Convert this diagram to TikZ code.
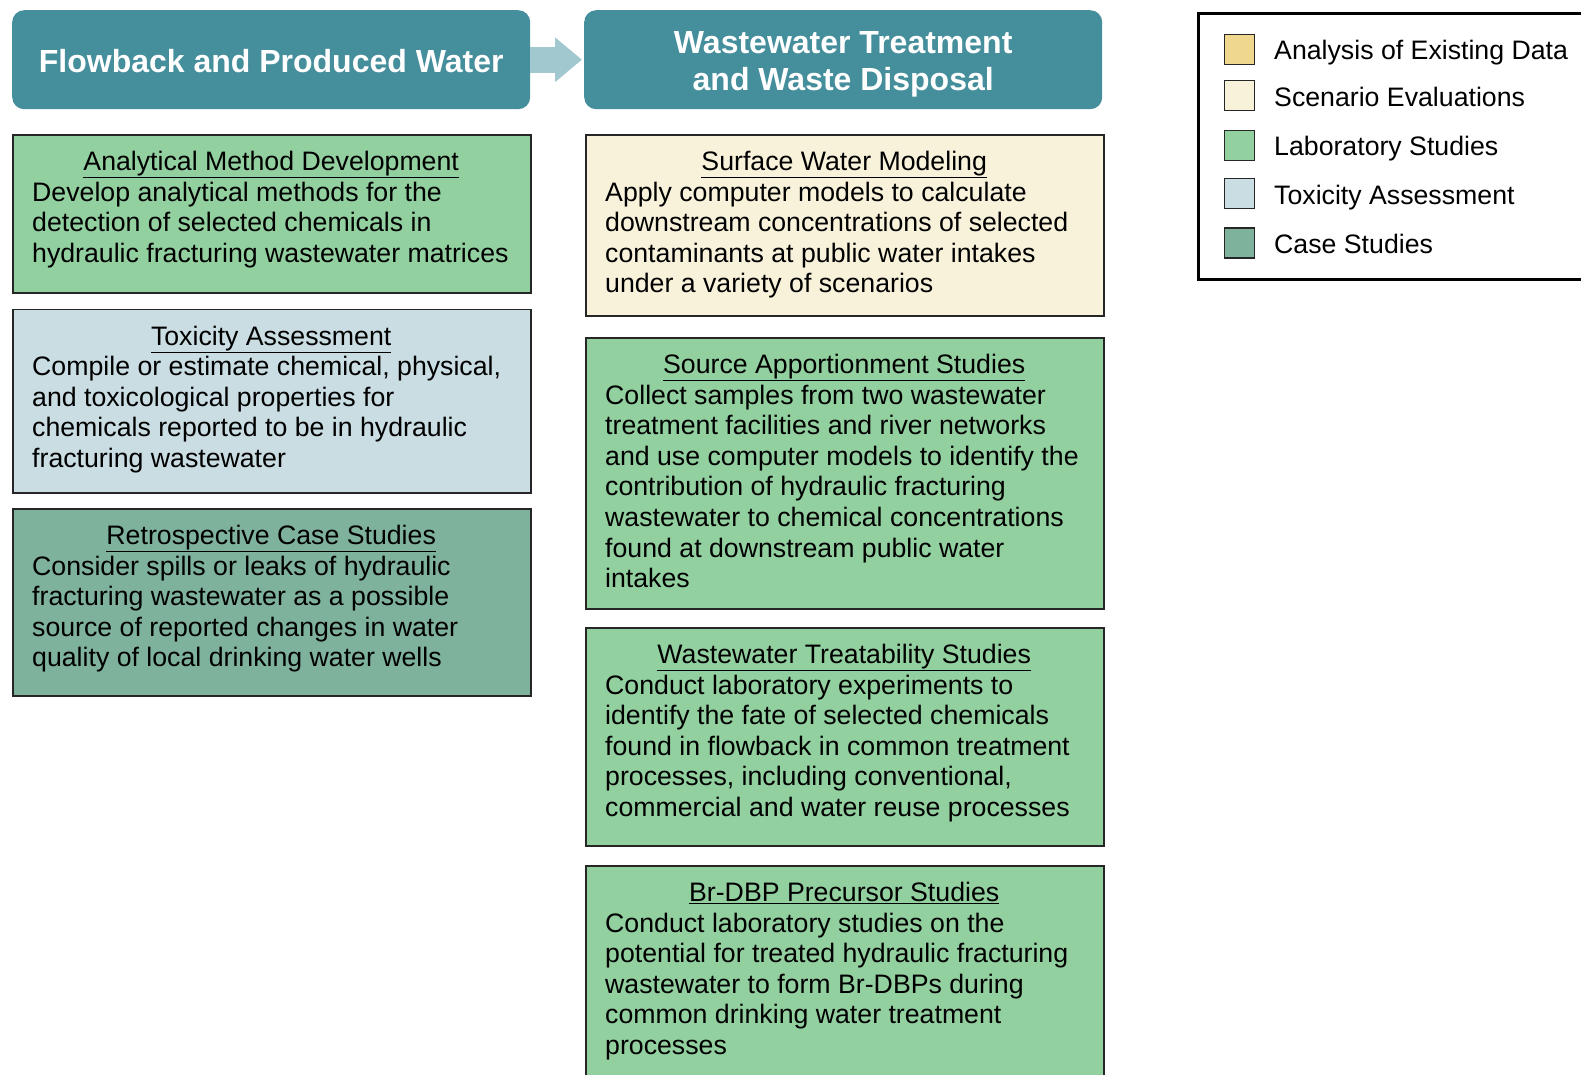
\documentclass[tikz,border=0pt]{standalone}
\usepackage{fontspec}
\setmainfont{Liberation Sans}
\usetikzlibrary{arrows.meta}
\definecolor{hdr}{HTML}{458E9B}
\definecolor{arr}{HTML}{A1C7CF}
\definecolor{lab}{HTML}{92D0A0}
\definecolor{tox}{HTML}{C9DDE2}
\definecolor{cas}{HTML}{7EB29C}
\definecolor{scen}{HTML}{F8F2DB}
\definecolor{ana}{HTML}{EFD88E}
\newcommand{\ttl}[1]{\makebox[478pt]{\underline{#1}}}
\begin{document}
\begin{tikzpicture}[x=1pt,y=-1pt,
  hdrbox/.style={anchor=north west, fill=hdr, rounded corners=12pt, minimum width=518pt, minimum height=99pt, inner sep=0pt, text=white, align=center, font=\fontsize{32}{37}\selectfont\bfseries},
  box/.style={draw=black!85, line width=1.8pt, anchor=north west, inner sep=0pt, minimum width=518pt},
  body/.style={anchor=north west, inner sep=0pt, align=left, text=black, font=\fontsize{26.7}{30.6}\selectfont},
  sw/.style={draw=black!85, line width=1.3pt, minimum size=30pt, inner sep=0pt},
  leg/.style={anchor=base west, inner sep=0pt, text=black, font=\fontsize{26.7}{30.6}\selectfont}]
\useasboundingbox (0,0) rectangle (1581,1074);
\clip (0,0) rectangle (1581,1074);

% headers
\node[hdrbox] (H1) at (12,10) {\rule{0pt}{25pt}Flowback and Produced Water};
\node[hdrbox] (H2) at (584,10) {\rule{0pt}{32pt}Wastewater Treatment\\and Waste Disposal};
\draw[arr, line width=26pt, -{Triangle[width=43pt,length=27pt]}, shorten >=2pt] (H1.east) -- (H2.west);

% left column
\node[box, fill=lab, minimum height=158pt] (A) at (12,134) {};
\node[body] (At) at ([xshift=20pt,yshift=-17pt]A.north west) {\ttl{Analytical Method Development}\\
Develop analytical methods for the\\
detection of selected chemicals in\\
hydraulic fracturing wastewater matrices};

\node[box, fill=tox, minimum height=183.5pt] (B) at (12,308.5) {};
\node[body] (Bt) at ([xshift=20pt,yshift=-17pt]B.north west) {\ttl{Toxicity Assessment}\\
Compile or estimate chemical, physical,\\
and toxicological properties for\\
chemicals reported to be in hydraulic\\
fracturing wastewater};

\node[box, fill=cas, minimum height=187pt] (C) at (12,508) {};
\node[body] (Ct) at ([xshift=20pt,yshift=-17pt]C.north west) {\ttl{Retrospective Case Studies}\\
Consider spills or leaks of hydraulic\\
fracturing wastewater as a possible\\
source of reported changes in water\\
quality of local drinking water wells};

% right column
\node[box, fill=scen, minimum height=181pt] (D) at (585,134) {};
\node[body] (Dt) at ([xshift=20pt,yshift=-17pt]D.north west) {\ttl{Surface Water Modeling}\\
Apply computer models to calculate\\
downstream concentrations of selected\\
contaminants at public water intakes\\
under a variety of scenarios};

\node[box, fill=lab, minimum height=271pt] (E) at (585,337) {};
\node[body] (Et) at ([xshift=20pt,yshift=-17pt]E.north west) {\ttl{Source Apportionment Studies}\\
Collect samples from two wastewater\\
treatment facilities and river networks\\
and use computer models to identify the\\
contribution of hydraulic fracturing\\
wastewater to chemical concentrations\\
found at downstream public water\\
intakes};

\node[box, fill=lab, minimum height=218pt] (F) at (585,627) {};
\node[body] (Ft) at ([xshift=20pt,yshift=-17pt]F.north west) {\ttl{Wastewater Treatability Studies}\\
Conduct laboratory experiments to\\
identify the fate of selected chemicals\\
found in flowback in common treatment\\
processes, including conventional,\\
commercial and water reuse processes};

\node[box, fill=lab, minimum height=240pt] (G) at (585,865) {};
\node[body] (Gt) at ([xshift=20pt,yshift=-17pt]G.north west) {\ttl{Br-DBP Precursor Studies}\\
Conduct laboratory studies on the\\
potential for treated hydraulic fracturing\\
wastewater to form Br-DBPs during\\
common drinking water treatment\\
processes};

% legend
\node[draw=black, line width=3pt, anchor=north west, minimum width=430pt, minimum height=266pt, inner sep=0pt] (L) at (1197,12) {};
\node[sw, fill=ana] (s1) at (1239.5,49.4) {};
\node[sw, fill=scen] (s2) at (1239.5,95.8) {};
\node[sw, fill=lab] (s3) at (1239.5,145.2) {};
\node[sw, fill=tox] (s4) at (1239.5,193.6) {};
\node[sw, fill=cas] (s5) at (1239.5,243.0) {};
\node[leg] (l1) at (1274,59.9) {Analysis of Existing Data};
\node[leg] (l2) at (1274,106.3) {Scenario Evaluations};
\node[leg] (l3) at (1274,155.7) {Laboratory Studies};
\node[leg] (l4) at (1274,204.1) {Toxicity Assessment};
\node[leg] (l5) at (1274,253.5) {Case Studies};
\end{tikzpicture}
\end{document}
